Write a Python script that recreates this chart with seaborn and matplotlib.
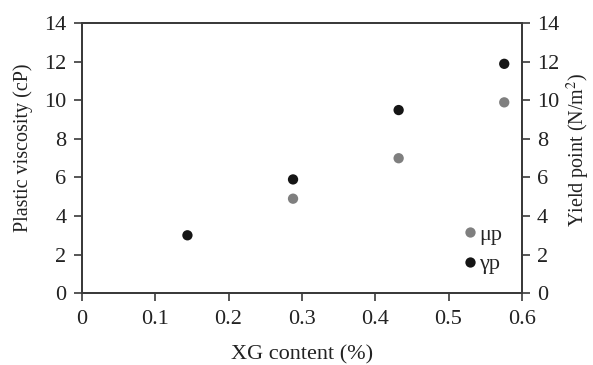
import numpy as np
import pandas as pd
import matplotlib
matplotlib.use("Agg")
import matplotlib.pyplot as plt
import seaborn as sns

# values
xg_mu = [0.288, 0.432, 0.576]
mu_p = [4.9, 7.0, 9.9]
xg_gamma = [0.144, 0.288, 0.432, 0.576]
gamma_p = [3.0, 5.9, 9.5, 11.9]

df = pd.concat([
    pd.DataFrame({"XG": xg_mu, "value": mu_p, "series": "μp"}),
    pd.DataFrame({"XG": xg_gamma, "value": gamma_p, "series": "γp"}),
])

sns.set_style("white")
plt.rcParams["font.family"] = ["Liberation Serif", "DejaVu Serif"]
plt.rcParams["mathtext.fontset"] = "stix"

edge = "#3a3a3a"
txt = "#222222"
fs = 16
fig, ax = plt.subplots(figsize=(5.93, 3.65), dpi=100)
fig.subplots_adjust(left=0.138, right=0.880, top=0.936, bottom=0.197)

sns.scatterplot(data=df, x="XG", y="value", hue="series",
                palette={"μp": "#7f7f7f", "γp": "#151515"},
                s=55, edgecolor="none", ax=ax)

ax.set_xlim(0, 0.6)
ax.set_ylim(0, 14)
ax.set_xticks(np.arange(0, 0.61, 0.1))
ax.set_xticklabels(["0", "0.1", "0.2", "0.3", "0.4", "0.5", "0.6"])
ax.set_yticks(range(0, 15, 2))
ax.set_xlabel("XG content (%)", fontsize=fs, color=txt, labelpad=12)
ax.set_ylabel("Plastic viscosity (cP)", fontsize=14.5, color=txt)
ax.yaxis.set_label_coords(-0.112, 0.537)

ax2 = ax.twinx()
ax2.set_ylim(0, 14)
ax2.set_yticks(range(0, 15, 2))
ax2.set_ylabel("Yield point (N/m$^2$)", fontsize=14.5, color=txt)
ax2.yaxis.set_label_coords(1.097, 0.53)

for a in (ax, ax2):
    for sp in a.spines.values():
        sp.set_color(edge)
        sp.set_linewidth(1.3)
    a.tick_params(direction="out", length=6, width=1.2, color=edge,
                  labelsize=fs, labelcolor=txt, pad=5)
ax.tick_params(axis="both", left=True, bottom=True)
ax.tick_params(axis="x", pad=6)
ax2.tick_params(axis="y", right=True)

leg = ax.legend(loc="lower right", bbox_to_anchor=(0.985, 0.02), frameon=False,
                fontsize=fs, handletextpad=-0.6, labelspacing=0.4,
                borderaxespad=0.2, markerscale=1.0)

fig.savefig("out.png", dpi=100)
